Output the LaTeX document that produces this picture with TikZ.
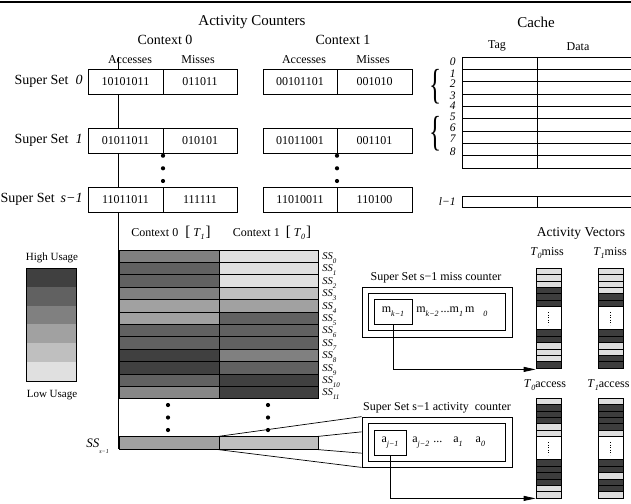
\documentclass[tikz,border=0pt]{standalone}
\usepackage{fontspec}
\setmainfont{Liberation Serif}
\usetikzlibrary{arrows.meta,calc}
\newcommand{\mysub}[2][8]{\raisebox{-3.5pt}{\fontsize{#1}{#1}\selectfont\textit{#2}}}
\newcommand{\lowsub}[1]{\raisebox{-4pt}{\fontsize{7}{7}\selectfont\textit{#1}}}
\newcommand{\bigbr}[1]{{\fontsize{15}{15}\selectfont #1}}
\definecolor{vL}{gray}{0.87}
\definecolor{vD}{gray}{0.24}
\newcommand{\actvec}[4]{%
  \foreach \c [count=\i from 0] in {#3} {\draw[fill=\c, line width=0.5pt] (#1,{#2+6.4*\i}) rectangle ++(25,6.4);}
  \foreach \c [count=\i from 0] in {#4} {\draw[fill=\c, line width=0.5pt] (#1,{#2+61.6+6.4*\i}) rectangle ++(25,6.4);}
  \draw[dotted, line width=0.6pt] ({#1+12.5},{#2+44}) -- ({#1+12.5},{#2+57});
}
\begin{document}
\begin{tikzpicture}[x=1pt,y=-1pt, line width=0.8pt,
  ttl/.style={font=\fontsize{15}{15}\selectfont, inner sep=0},
  ctx/.style={font=\fontsize{14}{14}\selectfont, inner sep=0},
  hdr/.style={font=\fontsize{12}{12}\selectfont, inner sep=0},
  sslbl/.style={font=\fontsize{14}{14}\selectfont, inner sep=0, anchor=east},
  cellbox/.style={draw, fill=white, minimum height=25pt, inner sep=0, font=\fontsize{12}{12}\selectfont},
  gcell/.style={draw, line width=0.9pt, minimum height=12.4pt, inner sep=0},
  small/.style={font=\fontsize{11}{11}\selectfont, inner sep=0},
  ssl/.style={font=\fontsize{10.5}{10.5}\selectfont\itshape, inner sep=0, anchor=base west},
  cnum/.style={font=\fontsize{11.5}{11.5}\selectfont\itshape, inner sep=0, anchor=east},
  vecbox/.style={draw, minimum width=25pt, minimum height=100pt, inner sep=0},
  arr/.style={-{Triangle[length=12pt,width=5pt]}}
]
\useasboundingbox (0,0) rectangle (631,503);
\clip (0,0) rectangle (631,503);
\draw[line width=1.2pt] (0,2) -- (631,2);

% titles
\node[ttl] (tac) at (252,22) {Activity Counters};
\node[ttl] (tca) at (536,22) {Cache};
\node[ctx] (tc0) at (165,40) {Context 0};
\node[ctx] (tc1) at (343,40) {Context 1};
\node[hdr] (h0a) at (130,60) {Accesses};
\node[hdr] (h0m) at (198,60) {Misses};
\node[hdr] (h1a) at (304,60) {Accesses};
\node[hdr] (h1m) at (373,60) {Misses};

% long vertical line
\coordinate (vtop) at (118,57);
\coordinate (vbot) at (118,449);
\draw (vtop) -- (vbot);

% counter boxes
\foreach \y/\r/\a/\b/\c/\d in {81.5/0/10101011/011011/00101101/001010, 140.5/1/01011011/010101/01011001/001101, 199.5/2/11011011/111111/11010011/110100}{
  \node[cellbox, minimum width=75pt] (c0a\r) at (125.5,\y) {\a};
  \node[cellbox, minimum width=74pt] (c0m\r) at (200,\y) {\b};
  \node[cellbox, minimum width=74pt] (c1a\r) at (300,\y) {\c};
  \node[cellbox, minimum width=75pt] (c1m\r) at (374.5,\y) {\d};
}
\node[sslbl] (ss0) at (83,81.5) {Super Set\hspace{7pt}\textit{0}};
\node[sslbl] (ss1) at (83,140.5) {Super Set\hspace{7pt}\textit{1}};
\node[sslbl] (ss2) at (83,199.5) {Super Set\hspace{6pt}\textit{s−1}};
\foreach \y in {155.7,168.3,181}{
  \fill (163,\y) circle (2.1pt);
  \fill (337,\y) circle (2.1pt);
}

% cache
\foreach \i in {0,...,9}{ \draw (462,{57+12.35*\i}) -- (632,{57+12.35*\i}); }
\draw (462,57) -- (462,168.15);
\draw (537,57) -- (537,168.15);
\draw (462,196) rectangle (632,207);
\draw (537,196) -- (537,207);
\node[hdr] (tag) at (497,46) {Tag};
\node[hdr] (dat) at (578,47) {Data};
\foreach \t/\y in {\textit{0}/62,\textit{1}/73.5,2/84,\textit{3}/95.5,\textit{4}/106,\textit{5}/117,\textit{6}/128,\textit{7}/139,\textit{8}/152}{
  \node[cnum] at (456,\y) {\t};
}
\node[cnum] (lm1) at (456,202) {l−1};
\node[inner sep=0, font=\fontsize{42}{42}\selectfont] (br1) at (435.5,87) {\scalebox{0.6}[1]{\{}};
\node[inner sep=0, font=\fontsize{42}{42}\selectfont] (br2) at (435.5,134) {\scalebox{0.6}[1]{\{}};

% legend
\node[small] (hu) at (52,258) {High Usage};
\node[small] (lu) at (52,395) {Low Usage};
\foreach \c [count=\i from 0] in {75,62,50,37,25,12}{
  \fill[black!\c] (26,{268+18.83*\i}) rectangle ++(50,18.83);
}
\node[draw, line width=1pt, minimum width=50pt, minimum height=113pt, inner sep=0] (legend) at (51,324.5) {};

% grid
\node[font=\fontsize{12}{12}\selectfont, inner sep=0] (gh0) at (171,233) {Context 0\hspace{7pt}\bigbr{[}\hspace{3pt}\textit{T}\mysub{1}\hspace{1pt}\bigbr{]}};
\node[font=\fontsize{12}{12}\selectfont, inner sep=0] (gh1) at (272,233) {Context 1\hspace{6pt}\bigbr{[}\hspace{3pt}\textit{T}\mysub{0}\hspace{1pt}\bigbr{]}};
\foreach \c [count=\i from 0] in {50,62,62,50,37,37,62,62,75,75,62,47}{
  \node[gcell, minimum width=100pt, fill=black!\c] (ga\i) at (169,{256.2+12.4*\i}) {};
}
\foreach \c [count=\i from 0] in {12,12,12,25,37,62,62,62,50,62,75,75}{
  \node[gcell, minimum width=99pt, fill=black!\c] (gb\i) at (268.5,{256.2+12.4*\i}) {};
  \node[ssl] (ssl\i) at (322,{259.5+12.4*\i}) {SS\lowsub{\i}};
}
\foreach \y in {405,417.5,430}{
  \fill (168,\y) circle (2.1pt);
  \fill (268,\y) circle (2.1pt);
}
\node[gcell, minimum width=100pt, fill=black!37] (sl0) at (169,443) {};
\node[gcell, minimum width=99pt, fill=black!25] (sl1) at (268.5,443) {};
\node[inner sep=0, anchor=base west, font=\fontsize{13}{13}\selectfont\itshape] (sssm) at (86,447) {SS\raisebox{-6pt}{\fontsize{6}{6}\selectfont s−1}};

% miss counter
\node[hdr] (mct) at (436,278) {Super Set s−1 miss counter};
\node[draw, minimum width=150pt, minimum height=50pt, inner sep=0] (mc) at (437,312) {};
\node[draw, minimum width=137pt, minimum height=37pt, inner sep=0] (mci) at (436.5,311.5) {};
\node[draw, minimum width=38pt, minimum height=25pt, inner sep=0, font=\fontsize{12}{12}\selectfont] (mk) at (393,311.5) {m\mysub{k−1}};
\node[inner sep=0, anchor=west, font=\fontsize{12}{12}\selectfont] (mrest) at (416,311.5) {m\mysub{k−2}\hspace{2pt}...m\mysub{1}\hspace{2pt}m\hspace{9pt}\mysub{0}};

% activity counter
\node[hdr] (act) at (437,408) {Super Set s−1 activity\ \ counter};
\node[draw, minimum width=150pt, minimum height=50pt, inner sep=0] (ac) at (437,442) {};
\node[draw, minimum width=137pt, minimum height=38pt, inner sep=0] (aci) at (436.5,442) {};
\node[draw, minimum width=32pt, minimum height=25pt, inner sep=0, font=\fontsize{12}{12}\selectfont] (aj) at (390,442.5) {a\mysub{j−1}};
\node[inner sep=0, anchor=west, font=\fontsize{12}{12}\selectfont] (arest) at (412,442.5) {a\mysub{j−2}\hspace{4pt}...\hspace{11pt}a\mysub{1}\hspace{13pt}a\mysub{0}};

% perspective lines
\draw[line width=0.7pt] (sl1.north west) -- (ac.north west);
\draw[line width=0.7pt] (sl1.north east) -- ($(ac.north west)!0.3!(ac.south west)$);
\draw[line width=0.7pt] (sl1.south east) -- ($(ac.north west)!0.72!(ac.south west)$);
\draw[line width=0.7pt] (sl1.south west) -- (ac.south west);

% activity vectors
\node[font=\fontsize{13.5}{13.5}\selectfont, inner sep=0] (avt) at (581,233) {Activity Vectors};
\node[hdr] (t0mt) at (547,253) {\textit{T}\mysub{0}miss};
\node[hdr] (t1mt) at (610,253) {\textit{T}\mysub{1}miss};
\node[hdr] (t0at) at (545,385) {\textit{T}\mysub{0}access};
\node[hdr, anchor=west] (t1at) at (587,385) {\textit{T}\mysub{1}access};
\actvec{536}{268}{vL,vL,vL,vD,vD,vD}{vD,vD,vL,vL,vL,vD}
\actvec{598}{268}{vL,vL,vL,vL,vD,vD}{vD,vD,vL,vL,vD,vD}
\actvec{536}{398}{vL,vD,vD,vD,vL,vL}{vD,vD,vD,vD,vL,vL}
\actvec{598}{398}{vL,vD,vD,vD,vD,vL}{vD,vD,vL,vD,vD,vL}
\node[vecbox] (t0m) at (548.5,318) {};
\node[vecbox] (t1m) at (610.5,318) {};
\node[vecbox] (t0a) at (548.5,448) {};
\node[vecbox] (t1a) at (610.5,448) {};

\draw[arr] (mk.south) |- ($(t0m.south west)+(0,1)$);
\draw[arr] (aj.south) |- (t0a.south west);
\end{tikzpicture}
\end{document}
